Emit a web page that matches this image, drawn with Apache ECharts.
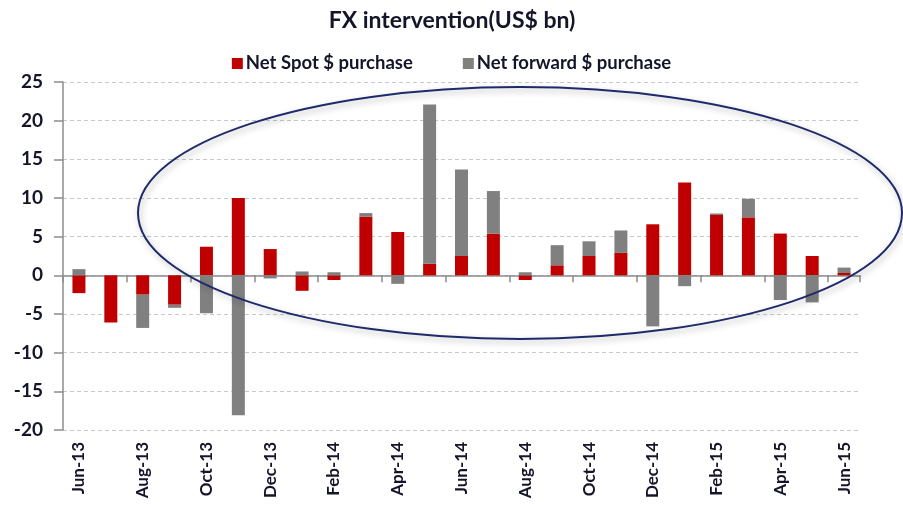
<!DOCTYPE html>
<html><head><meta charset="utf-8">
<script src="https://cdn.jsdelivr.net/npm/echarts@6/dist/echarts.min.js"></script>
<style>html,body{margin:0;padding:0;background:#fff}#c{width:903px;height:505px}</style>
</head><body><div id="c"></div>
<script>
const categories = ['Jun-13','Jul-13','Aug-13','Sep-13','Oct-13','Nov-13','Dec-13','Jan-14','Feb-14','Mar-14','Apr-14','May-14','Jun-14','Jul-14','Aug-14','Sep-14','Oct-14','Nov-14','Dec-14','Jan-15','Feb-15','Mar-15','Apr-15','May-15','Jun-15'];
const spot = [-2.3,-6.1,-2.5,-3.8,3.7,10.0,3.4,-2.0,-0.6,7.6,5.6,1.5,2.5,5.4,-0.6,1.3,2.5,2.9,6.6,12.0,7.8,7.5,5.4,2.5,0.3];
const forward = [0.8,0.0,-4.3,-0.4,-4.9,-18.1,-0.4,0.5,0.4,0.45,-1.1,20.6,11.2,5.5,0.4,2.6,1.9,2.9,-6.6,-1.4,0.2,2.4,-3.2,-3.5,0.7];
const yTicks = {min:-20, max:25, interval:5};
const titleText = 'FX intervention(US$ bn)';
const seriesNames = ['Net Spot $ purchase','Net forward $ purchase'];

const FONT = 'Lato';
const TXT = '#15152a';
const chart = echarts.init(document.getElementById('c'), null, {renderer:'canvas'});
chart.setOption({
  animation:false,
  backgroundColor:'#fff',
  title:{text:titleText,left:447,top:4,textAlign:'center',
    textStyle:{fontFamily:FONT,fontWeight:'bold',fontSize:23,color:TXT}},
  legend:{top:49,left:'center',itemWidth:11,itemHeight:11,itemGap:50,icon:'rect',
    textStyle:{fontFamily:FONT,fontWeight:'bold',fontSize:18.5,color:TXT,padding:[0,0,0,-2]},
    data:seriesNames},
  grid:{left:63,right:43,top:82,bottom:75},
  xAxis:[{
    type:'category',data:categories,position:'bottom',
    axisLine:{onZero:true,lineStyle:{color:'#8c8c8c',width:1.5}},
    axisTick:{show:true,interval:1,length:7,lineStyle:{color:'#8c8c8c',width:1.5}},
    axisLabel:{show:false},splitLine:{show:false}
  },{
    type:'category',data:categories,position:'bottom',
    axisLine:{show:false,onZero:false},axisTick:{show:false},
    axisLabel:{show:true,interval:1,rotate:90,margin:12,fontFamily:FONT,fontWeight:'bold',fontSize:17,color:TXT},
    splitLine:{show:false}
  }],
  yAxis:{type:'value',min:yTicks.min,max:yTicks.max,interval:yTicks.interval,
    axisLine:{show:true,lineStyle:{color:'#8c8c8c',width:1.5}},
    axisTick:{show:true,length:9,lineStyle:{color:'#8c8c8c',width:1.5}},
    axisLabel:{margin:20,fontFamily:FONT,fontWeight:'bold',fontSize:19,color:TXT},
    splitLine:{show:true,lineStyle:{color:'#c8c8c8',type:[4,3],width:1}}},
  series:[
    {name:seriesNames[0],type:'bar',stack:'fx',data:spot,barWidth:13,xAxisIndex:0,
      itemStyle:{color:'#c00000'}},
    {name:seriesNames[1],type:'bar',stack:'fx',data:forward,barWidth:13,xAxisIndex:0,
      itemStyle:{color:'#808080'}}
  ],
  graphic:[{type:'ellipse',shape:{cx:520,cy:213,rx:382,ry:126},z:100,
    style:{fill:null,stroke:'#1f2a6b',lineWidth:2,shadowBlur:6,shadowColor:'rgba(0,0,0,0.3)',shadowOffsetX:2,shadowOffsetY:3}}]
});
</script></body></html>
